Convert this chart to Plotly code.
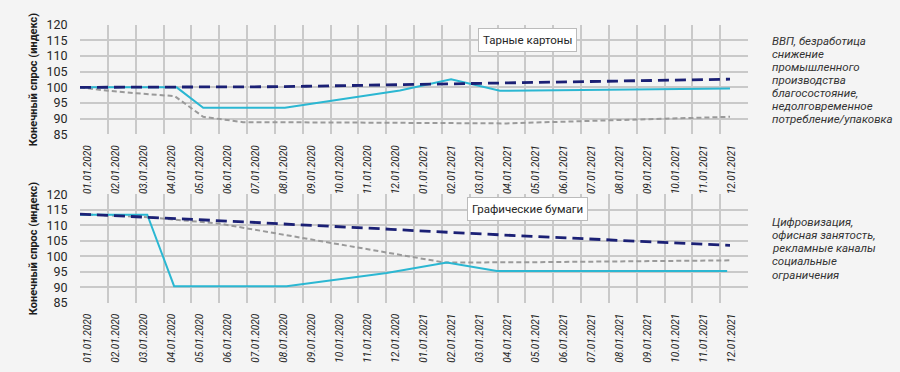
import plotly.graph_objects as go

# ---------------- data ----------------
dates = ["01.01.2020", "02.01.2020", "03.01.2020", "04.01.2020", "05.01.2020", "06.01.2020",
         "07.01.2020", "08.01.2020", "09.01.2020", "10.01.2020", "11.01.2020", "12.01.2020",
         "01.01.2021", "02.01.2021", "03.01.2021", "04.01.2021", "05.01.2021", "06.01.2021",
         "07.01.2021", "08.01.2021", "09.01.2021", "10.01.2021", "11.01.2021", "12.01.2021"]
idx = list(range(len(dates)))

# Тарные картоны
top_navy = [100.0, 100.0, 100.0, 100.0, 100.05, 100.1, 100.15, 100.2, 100.35, 100.5, 100.65, 100.8,
            100.95, 101.1, 101.25, 101.4, 101.55, 101.7, 101.85, 102.0, 102.15, 102.3, 102.45, 102.6]
top_cyan_x = [0, 3.42, 4.36, 7.25, 11.32, 13.13, 14.86, 23]
top_cyan_y = [100.0, 100.0, 93.5, 93.5, 99.0, 102.6, 98.9, 99.6]
top_gray_x = [0, 1, 2, 3.35, 4.36, 5.77, 9, 13, 15.1, 18.4, 23]
top_gray_y = [100.0, 98.9, 98.1, 97.2, 90.6, 88.9, 88.8, 88.7, 88.5, 89.4, 90.6]

# Графические бумаги
bot_navy = [113.6, 113.2, 112.8, 112.3, 111.9, 111.5, 111.0, 110.5, 110.1, 109.7, 109.2, 108.7,
            108.2, 107.7, 107.2, 106.8, 106.4, 106.0, 105.6, 105.2, 104.8, 104.4, 103.9, 103.5]
bot_cyan_x = [0, 2.38, 3.33, 7.31, 10.85, 12.98, 14.75, 22.9]
bot_cyan_y = [113.4, 113.4, 90.4, 90.4, 94.6, 98.0, 95.3, 95.3]
bot_gray_x = [0, 2.4, 4.95, 5.9, 7.6, 9.3, 10.97, 12.9, 16, 23]
bot_gray_y = [113.6, 112.6, 110.5, 109.0, 106.2, 103.5, 100.9, 98.0, 98.1, 98.7]

y_ticks = [85, 90, 95, 100, 105, 110, 115, 120]
top_title = "Тарные картоны"
bot_title = "Графические бумаги"
top_notes = ["ВВП, безработица", "снижение", "промышленного", "производства",
             "благосостояние,", "недолговременное", "потребление/упаковка"]
bot_notes = ["Цифровизация,", "офисная занятость,", "рекламные каналы", "социальные", "ограничения"]
y_title = "Конечный спрос (индекс)"

# ---------------- style ----------------
BG = "#f4f4f4"
GRID = "#c9c9c9"
NAVY = "#1b2075"
CYAN = "#2bb7d2"
GRAY = "#9a9a9a"
FONT = "Roboto, Liberation Sans, sans-serif"
TXT = "#262626"
W, H = 900, 372

x_dom = [80 / W, 748 / W]
top_dom = [1 - 131.7 / H, 1 - 17.3 / H]
bot_dom = [1 - 307.3 / H, 1 - 194 / H]
data_range = [0, 23 * 668 / 650]
label_pos = [0.28 + 0.99 * i for i in idx]

fig = go.Figure()


def add_series(xa, ya, navy_x, navy_y, cyan_x, cyan_y, gray_x, gray_y):
    fig.add_trace(go.Scatter(x=gray_x, y=gray_y, xaxis=xa, yaxis=ya,
                             mode="lines", line=dict(color=GRAY, width=2, dash="5px,3px"),
                             showlegend=False, hoverinfo="skip"))
    fig.add_trace(go.Scatter(x=cyan_x, y=cyan_y, xaxis=xa, yaxis=ya,
                             mode="lines", line=dict(color=CYAN, width=2),
                             showlegend=False, hoverinfo="skip"))
    fig.add_trace(go.Scatter(x=navy_x, y=navy_y, xaxis=xa, yaxis=ya,
                             mode="lines", line=dict(color=NAVY, width=2.8, dash="11px,6px"),
                             showlegend=False, hoverinfo="skip"))


# empty traces so the grid axes exist
fig.add_trace(go.Scatter(x=[], y=[], xaxis="x3", yaxis="y", showlegend=False))
fig.add_trace(go.Scatter(x=[], y=[], xaxis="x4", yaxis="y2", showlegend=False))

add_series("x", "y", idx, top_navy, top_cyan_x, top_cyan_y, top_gray_x, top_gray_y)
add_series("x2", "y2", idx, bot_navy, bot_cyan_x, bot_cyan_y, bot_gray_x, bot_gray_y)

xdata = dict(domain=x_dom, range=data_range, showgrid=False, zeroline=False,
             tickmode="array", tickvals=label_pos, ticktext=dates, tickangle=-90,
             ticks="outside", ticklen=6, tickcolor="rgba(0,0,0,0)",
             tickfont=dict(family=FONT, size=10, color=TXT, style="italic"))
xgrid = dict(domain=x_dom, range=[0, 24], tickmode="array", tickvals=list(range(25)),
             showticklabels=False, showgrid=True, gridcolor=GRID, gridwidth=1.5, zeroline=False)
ycommon = dict(range=[85, 120], tickmode="array", tickvals=y_ticks, showgrid=True,
               gridcolor=GRID, gridwidth=1.5, zeroline=False,
               ticks="outside", ticklen=9, tickcolor="rgba(0,0,0,0)",
               tickfont=dict(family=FONT, size=12.5, color=TXT),
               title=dict(text="<b>" + y_title + "</b>", standoff=6,
                          font=dict(family=FONT, size=11, color="#1e1e1e")))

fig.update_layout(
    width=W, height=H, margin=dict(l=0, r=0, t=0, b=0),
    paper_bgcolor=BG, plot_bgcolor=BG,
    xaxis=dict(anchor="y", **xdata),
    xaxis2=dict(anchor="y2", **xdata),
    xaxis3=dict(anchor="y", overlaying="x", **xgrid),
    xaxis4=dict(anchor="y2", overlaying="x2", **xgrid),
    yaxis=dict(domain=top_dom, anchor="x", **ycommon),
    yaxis2=dict(domain=bot_dom, anchor="x2", **ycommon),
)

ann = []
for title, yc in [(top_title, 33), (bot_title, 209.5)]:
    ann.append(dict(text=title, x=527 / W, y=1 - yc / H, xref="paper", yref="paper",
                    xanchor="center", yanchor="middle", showarrow=False,
                    bgcolor="white", bordercolor="#bbbbbb", borderwidth=1, borderpad=4,
                    font=dict(family=FONT, size=11.5, color=TXT)))
for lines, y0 in [(top_notes, 34.3), (bot_notes, 223.3)]:
    for k, line in enumerate(lines):
        ann.append(dict(text=line, x=770 / W, y=1 - (y0 + 13.6 * k) / H, xref="paper", yref="paper",
                        xanchor="left", yanchor="middle", showarrow=False,
                        font=dict(family=FONT, size=11.5, color="#333333", style="italic")))
fig.update_layout(annotations=ann)

fig.write_html("out.html")
